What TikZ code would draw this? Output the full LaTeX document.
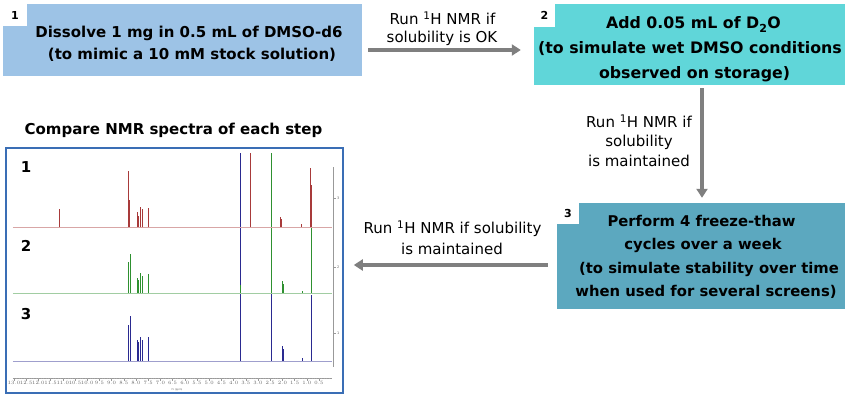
\documentclass[tikz,border=0pt]{standalone}
\usepackage{fontspec}
\setmainfont{DejaVu Sans}
\usetikzlibrary{arrows.meta}
\definecolor{boxA}{HTML}{9DC3E6}
\definecolor{boxB}{HTML}{60D6D9}
\definecolor{boxC}{HTML}{5CA8BF}
\definecolor{arrgray}{HTML}{7F7F7F}
\definecolor{frameblue}{HTML}{3A6EB5}
\definecolor{specR}{HTML}{A83A3A}
\definecolor{specG}{HTML}{2E9030}
\definecolor{specB}{HTML}{2A2A90}
\newcommand\nmrpk[3]{\draw (#1,#2) -- (#1,#3);}
\begin{document}
\begin{tikzpicture}[x=1pt,y=-1pt,
  stepbox/.style={draw=none, inner sep=0pt, anchor=center},
  numsq/.style={fill=white, inner sep=0pt, font=\bfseries\fontsize{11}{13}\selectfont},
  bta/.style={anchor=base, inner sep=0pt, font=\bfseries\fontsize{15}{18}\selectfont},
  btb/.style={anchor=base, inner sep=0pt, font=\bfseries\fontsize{15.8}{18}\selectfont},
  btc/.style={anchor=base, inner sep=0pt, font=\bfseries\fontsize{14.8}{18}\selectfont},
  lt/.style={anchor=base, inner sep=0pt, font=\fontsize{15}{18}\selectfont},
  arr/.style={draw=arrgray, line width=4pt, -{Triangle[length=9pt,width=11pt]}},
  tiny/.style={inner sep=0pt, text=gray!80!black, font=\fontsize{3.5}{4}\selectfont},
]
\useasboundingbox (0,0) rectangle (850,398);
% boxes
\node[stepbox, fill=boxA, minimum width=359pt, minimum height=72pt] (b1) at (182.5,40) {};
\node[stepbox, fill=boxB, minimum width=311pt, minimum height=81pt] (b2) at (689.5,44.5) {};
\node[stepbox, fill=boxC, minimum width=288pt, minimum height=106pt] (b3) at (701,256) {};
% number squares
\node[numsq, minimum width=24pt, minimum height=22pt] (n1) at (15,15) {1};
\node[numsq, minimum width=21pt, minimum height=23pt] (n2) at (544.5,15.5) {2};
\node[numsq, minimum width=22pt, minimum height=21pt] (n3) at (568,213.5) {3};
% box texts
\node[bta] (t1a) at (189,38) {Dissolve 1 mg in 0.5 mL of DMSO-d6};
\node[bta] (t1b) at (192,60) {(to mimic a 10 mM stock solution)};
\node[btb] (t2a) at (693.5,29) {Add 0.05 mL of D\textsubscript{2}O};
\node[btb] (t2b) at (690,54) {(to simulate wet DMSO conditions};
\node[btb] (t2c) at (694.5,78.5) {observed on storage)};
\node[btc] (t3a) at (701.5,226.5) {Perform 4 freeze-thaw};
\node[btc] (t3b) at (703,249.5) {cycles over a week};
\node[btc] (t3c) at (709,273) {(to simulate stability over time};
\node[btc] (t3d) at (706,296.5) {when used for several screens)};
% arrows
\draw[arr] ([xshift=6pt,yshift=-10pt]b1.east) -- ([xshift=-13pt,yshift=-5.5pt]b2.west);
\draw[arr] ([xshift=12.5pt,yshift=-3pt]b2.south) -- ([xshift=1pt,yshift=5pt]b3.north);
% arrow labels
\node[lt] (l1a) at (442.5,24.3) {Run \textsuperscript{1}H NMR if};
\node[lt] (l1b) at (442,42.7) {solubility is OK};
\node[lt] (l2a) at (639,128) {Run \textsuperscript{1}H NMR if};
\node[lt] (l2b) at (639,147) {solubility};
\node[lt] (l2c) at (639,166) {is maintained};
\node[lt] (l3a) at (452.5,233.3) {Run \textsuperscript{1}H NMR if solubility};
\node[lt] (l3b) at (452,254) {is maintained};
% title
\node[bta] (ttl) at (173.5,135) {Compare NMR spectra of each step};
% spectrum frame
\node[draw=frameblue, line width=1.6pt, fill=white, minimum width=337pt, minimum height=245pt, inner sep=0pt] (fr) at (174.5,270.5) {};
\draw[arr] ([xshift=-9pt,yshift=-9pt]b3.west) -- ([xshift=10pt,yshift=5.5pt]fr.east);
% spectra
\begin{scope}[shift={(331.2,0)}, x=-24.4pt]
  % blue (3)
  \begin{scope}[draw=specB, line width=0.7pt]
    \draw[specB!45, line width=0.6pt] (13.05,361) -- (-0.03,361);
    \nmrpk{8.31}{361}{325}\nmrpk{8.25}{361}{316}\nmrpk{8.23}{361}{318}
    \nmrpk{7.94}{361}{340}\nmrpk{7.90}{361}{342}\nmrpk{7.84}{361}{337}\nmrpk{7.82}{361}{340}
    \nmrpk{7.75}{361}{340}\nmrpk{7.73}{361}{344}\nmrpk{7.50}{361}{337}\nmrpk{7.48}{361}{340}
    \nmrpk{3.74}{361}{153}\nmrpk{2.47}{361}{153}
    \nmrpk{2.00}{361}{346}\nmrpk{1.97}{361}{349}\nmrpk{1.20}{361}{358}\nmrpk{0.83}{361}{295}
  \end{scope}
  % green (2)
  \begin{scope}[draw=specG, line width=0.7pt]
    \draw[specG!45, line width=0.6pt] (13.05,293) -- (-0.03,293);
    \nmrpk{8.31}{293}{262}\nmrpk{8.25}{293}{254}\nmrpk{8.23}{293}{256}
    \nmrpk{7.94}{293}{278}\nmrpk{7.90}{293}{280}\nmrpk{7.84}{293}{273}\nmrpk{7.82}{293}{277}
    \nmrpk{7.75}{293}{276}\nmrpk{7.73}{293}{280}\nmrpk{7.50}{293}{274}\nmrpk{7.48}{293}{277}
    \nmrpk{3.74}{293}{285}\nmrpk{2.47}{293}{153}
    \nmrpk{2.00}{293}{281}\nmrpk{1.97}{293}{284}\nmrpk{1.20}{293}{291}\nmrpk{0.83}{293}{228}
  \end{scope}
  % red (1)
  \begin{scope}[draw=specR, line width=0.7pt]
    \draw[specR!45, line width=0.6pt] (13.05,227) -- (-0.03,227);
    \nmrpk{11.14}{227}{209}
    \nmrpk{8.31}{227}{171}\nmrpk{8.29}{227}{200}
    \nmrpk{7.94}{227}{212}\nmrpk{7.92}{227}{216}\nmrpk{7.84}{227}{207}\nmrpk{7.82}{227}{211}
    \nmrpk{7.75}{227}{209}\nmrpk{7.73}{227}{214}\nmrpk{7.50}{227}{208}\nmrpk{7.48}{227}{213}
    \nmrpk{3.30}{227}{153}
    \nmrpk{2.08}{227}{217}\nmrpk{2.04}{227}{219}\nmrpk{1.21}{227}{224}
    \nmrpk{0.84}{227}{168}\nmrpk{0.82}{227}{185}
  \end{scope}
  % bottom axis
  \draw[gray!80, line width=0.4pt] (13.05,378) -- (-0.03,378);
  \foreach \p [count=\i] in {13,12.5,...,0.5} {
    \draw[gray!80, line width=0.3pt] (\p,378) -- (\p,380.5);
    \node[tiny, anchor=north] (tk\i) at (\p,381.5) {\pgfmathprintnumber[fixed,precision=1,fixed zerofill]{\p}};
  }
  \foreach \p in {12.9,12.8,...,0.1} {
    \draw[gray!70, line width=0.2pt] (\p,378) -- (\p,379.3);
  }
\end{scope}
\node[tiny, font=\fontsize{2.5}{3}\selectfont] (axt) at (177,389.5) {f1 (ppm)};
% right axis
\draw[gray!80, line width=0.4pt] (333,167) -- (333,367);
\foreach \yy/\lab [count=\j] in {198/3,267/2,333/1} {
  \draw[gray!80, line width=0.3pt] (333,\yy) -- (335.5,\yy);
  \node[tiny, anchor=west] (ry\j) at (337,\yy) {\lab};
}
% spectrum numbers
\node[bta] (s1) at (26,172.7) {1};
\node[bta] (s2) at (26,251) {2};
\node[bta] (s3) at (26,319.3) {3};
\end{tikzpicture}
\end{document}
